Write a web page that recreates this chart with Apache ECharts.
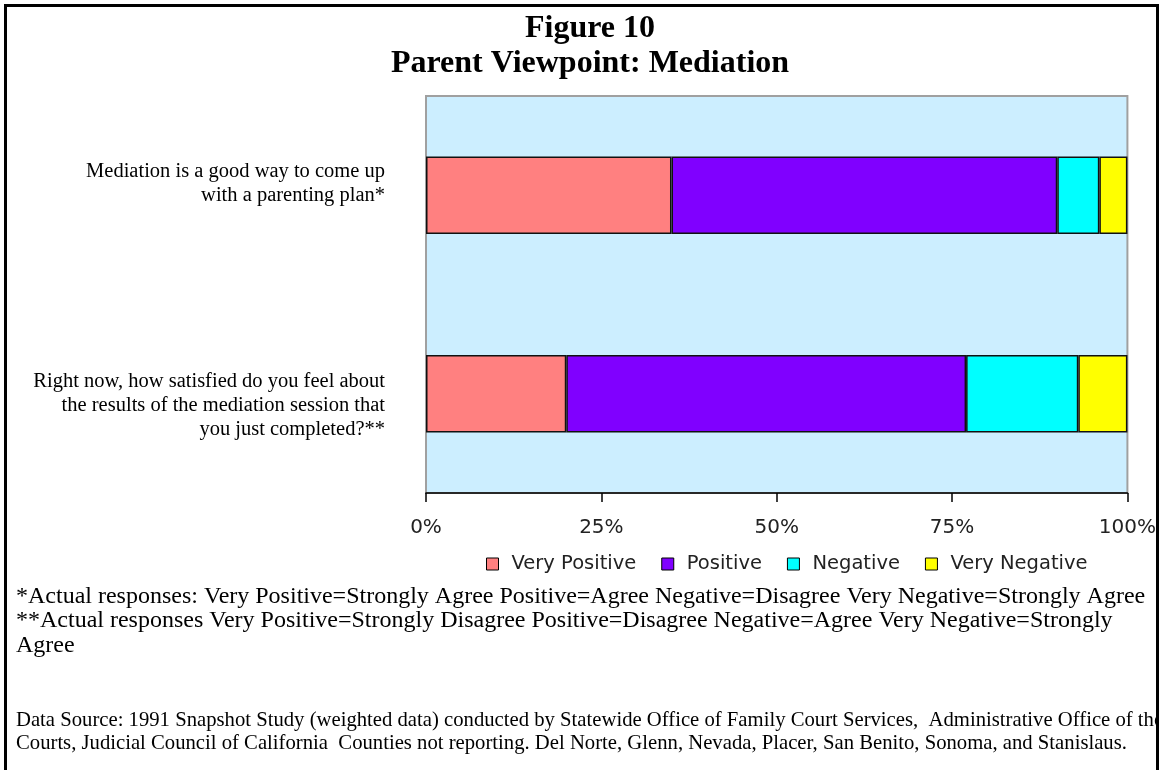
<!DOCTYPE html>
<html>
<head>
<meta charset="utf-8">
<script src="https://cdn.jsdelivr.net/npm/echarts@6/dist/echarts.min.js"></script>
<style>
html,body{margin:0;padding:0;background:#fff;}
#chart{width:1159px;height:770px;}
</style>
</head>
<body>
<div id="chart"></div>
<script>
const titleLines = ['Figure 10', 'Parent Viewpoint: Mediation'];
const categories = [
  'Mediation is a good way to come up\nwith a parenting plan*',
  'Right now, how satisfied do you feel about\nthe results of the mediation session that\nyou just completed?**'
];
const seriesNames = ['Very Positive', 'Positive', 'Negative', 'Very Negative'];
const veryPositive = [35, 20];
const positive = [55, 57];
const negative = [6, 16];
const veryNegative = [4, 7];
const xTicks = [0, 25, 50, 75, 100];
const footnotes = [
  '*Actual responses: Very Positive=Strongly Agree Positive=Agree Negative=Disagree Very Negative=Strongly Agree',
  '**Actual responses Very Positive=Strongly Disagree Positive=Disagree Negative=Agree Very Negative=Strongly',
  'Agree'
];
const sourceLines = [
  'Data Source: 1991 Snapshot Study (weighted data) conducted by Statewide Office of Family Court Services,  Administrative Office of the',
  'Courts, Judicial Council of California  Counties not reporting. Del Norte, Glenn, Nevada, Placer, San Benito, Sonoma, and Stanislaus.'
];
const colors = ['#FF8080', '#8000FF', '#00FFFF', '#FFFF00'];
const values = [veryPositive, positive, negative, veryNegative];

const chart = echarts.init(document.getElementById('chart'), null, {renderer: 'canvas'});
const serif = '"Liberation Serif", "Times New Roman", serif';
const sans = '"DejaVu Sans", Verdana, sans-serif';

const option = {
  backgroundColor: '#fff',
  animation: false,
  color: colors,
  grid: {
    left: 426, right: 31, top: 96, bottom: 277,
    show: true, backgroundColor: '#CCEEFF', borderColor: '#A0A0A0', borderWidth: 2,
    containLabel: false
  },
  legend: {
    data: seriesNames,
    left: 481, top: 549,
    itemWidth: 12, itemHeight: 12, itemGap: 25,
    icon: 'rect',
    itemStyle: {borderColor: '#000', borderWidth: 1},
    textStyle: {fontFamily: sans, fontSize: 19.5, color: '#222', padding: [0, 0, 0, 8]}
  },
  xAxis: {
    type: 'value', min: xTicks[0], max: xTicks[xTicks.length - 1], interval: 25,
    axisLine: {show: true, lineStyle: {color: '#000', width: 1.5}},
    axisTick: {show: true, length: 9, lineStyle: {color: '#000', width: 1.5}},
    splitLine: {show: false},
    axisLabel: {formatter: '{value}%', fontFamily: sans, fontSize: 20, color: '#222', margin: 25}
  },
  yAxis: {
    type: 'category', data: categories, inverse: true,
    axisLine: {show: false}, axisTick: {show: false}, splitLine: {show: false},
    axisLabel: {
      fontFamily: serif, fontSize: 20.5, color: '#000', lineHeight: 24, align: 'right', margin: 41,
      formatter: function (v, i) { return i === 0 ? v + '\n ' : ' \n' + v; }
    }
  },
  series: seriesNames.map(function (name, k) {
    return {
      name: name, type: 'bar', stack: 'total', barWidth: '39%',
      data: values[k],
      itemStyle: {color: colors[k], borderColor: '#111', borderWidth: 1.5}
    };
  }),
  graphic: [
    {type: 'text', x: 590, y: 11, z: 10, style: {text: titleLines.join('\n'), font: 'bold 32px ' + serif, fill: '#000', textAlign: 'center', lineHeight: 35}},
    {type: 'text', x: 16, y: 584, z: 10, style: {text: footnotes.join('\n'), font: '24px ' + serif, fill: '#000', lineHeight: 24.5}},
    {type: 'text', x: 16, y: 709, z: 10, style: {text: sourceLines.join('\n'), font: '20.7px ' + serif, fill: '#000', lineHeight: 23}},
    {type: 'rect', z: 20, shape: {x: 1157, y: 0, width: 2, height: 770}, style: {fill: '#fff'}},
    {type: 'rect', z: 21, shape: {x: 5.5, y: 5.5, width: 1152, height: 800}, style: {fill: 'none', stroke: '#000', lineWidth: 3}}
  ]
};
chart.setOption(option);
</script>
</body>
</html>
